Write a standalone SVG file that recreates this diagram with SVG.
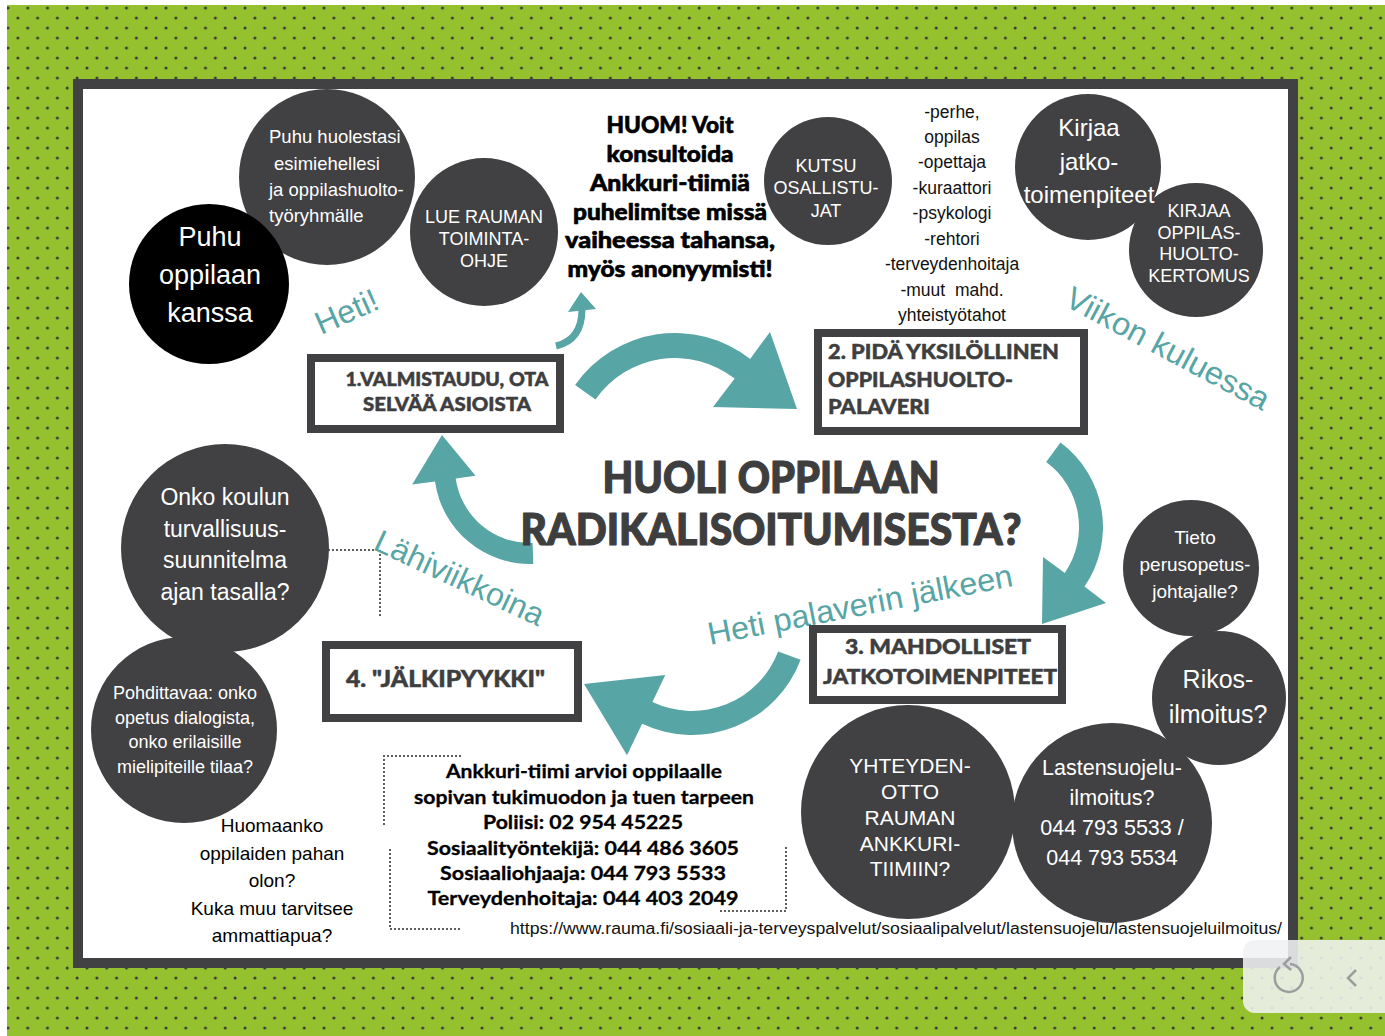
<svg xmlns="http://www.w3.org/2000/svg" width="1385" height="1036" viewBox="0 0 1385 1036">
<defs>
<pattern id="dots" x="0" y="0" width="19.75" height="20" patternUnits="userSpaceOnUse">
<circle cx="8" cy="8" r="1.5" fill="#3a3a3a"/>
<circle cx="17.875" cy="18" r="1.5" fill="#3a3a3a"/>
</pattern>
<style>
.circ{fill:#414042}
.blk{fill:#000}
.box{fill:#fff;stroke:#414042;stroke-width:8}
.ct{font-family:"Liberation Sans",Arial,sans-serif;fill:#fff;text-anchor:middle}
.pt{font-family:"Liberation Sans",Arial,sans-serif;fill:#111;text-anchor:middle}
.bt{font-family:Lato,"Open Sans",sans-serif;font-weight:900;fill:#3e3e3f;stroke:#3e3e3f;stroke-width:0.5;stroke-linejoin:round}
.ht{font-family:Lato,"Open Sans",sans-serif;font-weight:900;fill:#000;text-anchor:middle}
.hv{stroke:#000;stroke-width:0.6;stroke-linejoin:round}
.teal{fill:#57a5a5}
.tl{font-family:"Liberation Sans",Arial,sans-serif;fill:#57a5a5;font-size:32px}
.dot{fill:none;stroke:#3a3a3a;stroke-width:2.2;stroke-linecap:round;stroke-dasharray:0 4}
</style>
</defs>
<rect x="0" y="0" width="1385" height="1036" fill="#fff"/>
<rect x="7" y="5" width="1378" height="1031" fill="#96c12e"/>
<rect x="7" y="5" width="1378" height="1031" fill="url(#dots)"/>
<rect x="78" y="84" width="1215" height="879" fill="#fff" stroke="#414042" stroke-width="10"/>

<g id="connectors">
<path d="M556,346 Q582,340 582,309" fill="none" stroke="#57a5a5" stroke-width="7"/>
<polygon class="teal" points="581,292 568,312 596,309"/>
<path class="teal" d="M575.1,385 A122,122 0 0 1 750.1,358.9 L770,332 L797,409 L713,407 L734.7,378.6 A97,97 0 0 0 595.5,399.4 Z"/>
<path class="teal" d="M1060.5,442.6 A105,105 0 0 1 1084.5,586.5 L1106,603 L1042,624 L1043,557 L1064.8,572.9 A81,81 0 0 0 1046.2,461.9 Z"/>
<path class="teal" d="M800.6,659.8 A116,116 0 0 1 642.1,723.7 L627,755.3 L584,684 L665.3,675 L652.4,702 A92,92 0 0 0 778.1,651.4 Z"/>
<path class="teal" d="M533.3,563.9 A96,96 0 0 1 435,481.6 L412.2,484.6 L442,435 L475.5,475.7 L455.7,478.4 A75,75 0 0 0 532.6,543 Z"/>
<path class="dot" d="M329,550 H380 V618"/>
<path class="dot" d="M460,756 H384 V828"/>
<path class="dot" d="M390,850 V929 H463"/>
<path class="dot" d="M786,848 V911 H718"/>
</g>

<g id="labels">
<text class="tl" x="321" y="335" transform="rotate(-24 321 335)">Heti!</text>
<text class="tl" x="1063" y="305" transform="rotate(28 1063 305)" textLength="226" lengthAdjust="spacingAndGlyphs">Viikon kuluessa</text>
<text class="tl" x="372" y="549" transform="rotate(25 372 549)">Lähiviikkoina</text>
<text class="tl" x="710" y="645" transform="rotate(-11 710 645)" textLength="310" lengthAdjust="spacingAndGlyphs">Heti palaverin jälkeen</text>
</g>

<g id="n-huolestasi">
<circle class="circ" cx="327" cy="177" r="88"/>
<text class="ct" font-size="18.5" style="text-anchor:start"><tspan x="269" y="143">Puhu huolestasi</tspan><tspan x="274" y="170">esimiehellesi</tspan><tspan x="269" y="196">ja oppilashuolto-</tspan><tspan x="269" y="222">työryhmälle</tspan></text>
</g>
<g id="n-puhu">
<circle class="blk" cx="209" cy="284" r="80"/>
<text class="ct" font-size="27"><tspan x="210" y="246">Puhu</tspan><tspan x="210" y="284">oppilaan</tspan><tspan x="210" y="322">kanssa</tspan></text>
</g>
<g id="n-lue">
<circle class="circ" cx="484" cy="232" r="74"/>
<text class="ct" font-size="18"><tspan x="484" y="223">LUE RAUMAN</tspan><tspan x="484" y="245">TOIMINTA-</tspan><tspan x="484" y="267">OHJE</tspan></text>
</g>
<g id="n-huom">
<text class="ht hv" font-size="22"><tspan x="670" y="133" textLength="127" lengthAdjust="spacingAndGlyphs">HUOM! Voit</tspan><tspan x="670" y="162" textLength="127" lengthAdjust="spacingAndGlyphs">konsultoida</tspan><tspan x="670" y="191" textLength="160" lengthAdjust="spacingAndGlyphs">Ankkuri-tiimiä</tspan><tspan x="670" y="220" textLength="194" lengthAdjust="spacingAndGlyphs">puhelimitse missä</tspan><tspan x="670" y="248" textLength="210" lengthAdjust="spacingAndGlyphs">vaiheessa tahansa,</tspan><tspan x="670" y="277" textLength="205" lengthAdjust="spacingAndGlyphs">myös anonyymisti!</tspan></text>
</g>
<g id="n-kutsu">
<circle class="circ" cx="828" cy="181" r="64"/>
<text class="ct" font-size="18"><tspan x="826" y="172">KUTSU</tspan><tspan x="826" y="194">OSALLISTU-</tspan><tspan x="826" y="217">JAT</tspan></text>
</g>
<g id="n-osallistujat">
<text class="pt" font-size="17.5" xml:space="preserve"><tspan x="952" y="118">-perhe,</tspan><tspan x="952" y="143">oppilas</tspan><tspan x="952" y="168">-opettaja</tspan><tspan x="952" y="194">-kuraattori</tspan><tspan x="952" y="219">-psykologi</tspan><tspan x="952" y="245">-rehtori</tspan><tspan x="952" y="270">-terveydenhoitaja</tspan><tspan x="952" y="296">-muut  mahd.</tspan><tspan x="952" y="321">yhteistyötahot</tspan></text>
</g>
<g id="n-kertomus">
<circle class="circ" cx="1196" cy="250" r="67"/>
<text class="ct" font-size="18"><tspan x="1199" y="217">KIRJAA</tspan><tspan x="1199" y="239">OPPILAS-</tspan><tspan x="1199" y="260">HUOLTO-</tspan><tspan x="1199" y="282">KERTOMUS</tspan></text>
</g>
<g id="n-kirjaa">
<circle class="circ" cx="1088" cy="167" r="73"/>
<text class="ct" font-size="24"><tspan x="1089" y="136">Kirjaa</tspan><tspan x="1089" y="170">jatko-</tspan><tspan x="1089" y="203">toimenpiteet</tspan></text>
</g>
<g id="n-step1">
<rect class="box" x="311" y="358" width="249" height="71"/>
<text class="bt" font-size="18.5" text-anchor="middle"><tspan x="447" y="386" textLength="203" lengthAdjust="spacingAndGlyphs">1.VALMISTAUDU, OTA</tspan><tspan x="447" y="411" textLength="168" lengthAdjust="spacingAndGlyphs">SELVÄÄ ASIOISTA</tspan></text>
</g>
<g id="n-step2">
<rect class="box" x="818" y="333" width="266" height="98"/>
<text class="bt" font-size="21"><tspan x="828" y="359" textLength="231" lengthAdjust="spacingAndGlyphs">2. PIDÄ YKSILÖLLINEN</tspan><tspan x="828" y="387" textLength="185" lengthAdjust="spacingAndGlyphs">OPPILASHUOLTO-</tspan><tspan x="828" y="414" textLength="102" lengthAdjust="spacingAndGlyphs">PALAVERI</tspan></text>
</g>
<g id="n-title">
<text class="bt" font-size="43" text-anchor="middle" style="stroke-width:1.2"><tspan x="771" y="493" textLength="337" lengthAdjust="spacingAndGlyphs">HUOLI OPPILAAN</tspan><tspan x="771" y="545" textLength="501" lengthAdjust="spacingAndGlyphs">RADIKALISOITUMISESTA?</tspan></text>
</g>
<g id="n-onko">
<circle class="circ" cx="225" cy="548" r="104"/>
<text class="ct" font-size="23"><tspan x="225" y="505">Onko koulun</tspan><tspan x="225" y="537">turvallisuus-</tspan><tspan x="225" y="568">suunnitelma</tspan><tspan x="225" y="600">ajan tasalla?</tspan></text>
</g>
<g id="n-pohdittavaa">
<circle class="circ" cx="184" cy="730" r="93"/>
<text class="ct" font-size="18"><tspan x="185" y="699">Pohdittavaa: onko</tspan><tspan x="185" y="724">opetus dialogista,</tspan><tspan x="185" y="748">onko erilaisille</tspan><tspan x="185" y="773">mielipiteille tilaa?</tspan></text>
</g>
<g id="n-step3">
<rect class="box" x="813" y="629" width="249" height="71"/>
<text class="bt" font-size="21" text-anchor="middle"><tspan x="938" y="654" textLength="186" lengthAdjust="spacingAndGlyphs">3. MAHDOLLISET</tspan><tspan x="940" y="684" textLength="234" lengthAdjust="spacingAndGlyphs">JATKOTOIMENPITEET</tspan></text>
</g>
<g id="n-step4">
<rect class="box" x="326" y="645" width="252" height="73"/>
<text class="bt" font-size="23" x="346" y="687" textLength="199" lengthAdjust="spacingAndGlyphs">4. "JÄLKIPYYKKI"</text>
</g>
<g id="n-tieto">
<circle class="circ" cx="1191" cy="568" r="68"/>
<text class="ct" font-size="19"><tspan x="1195" y="544">Tieto</tspan><tspan x="1195" y="571">perusopetus-</tspan><tspan x="1195" y="598">johtajalle?</tspan></text>
</g>
<g id="n-rikos">
<circle class="circ" cx="1219" cy="698" r="67"/>
<text class="ct" font-size="25"><tspan x="1218" y="688">Rikos-</tspan><tspan x="1218" y="723">ilmoitus?</tspan></text>
</g>
<g id="n-yhteydenotto">
<circle class="circ" cx="908" cy="812" r="107"/>
<text class="ct" font-size="21"><tspan x="910" y="773">YHTEYDEN-</tspan><tspan x="910" y="799">OTTO</tspan><tspan x="910" y="825">RAUMAN</tspan><tspan x="910" y="851">ANKKURI-</tspan><tspan x="910" y="876">TIIMIIN?</tspan></text>
</g>
<g id="n-lastensuojelu">
<circle class="circ" cx="1112" cy="823" r="100"/>
<text class="ct" font-size="21.5"><tspan x="1112" y="775">Lastensuojelu-</tspan><tspan x="1112" y="805">ilmoitus?</tspan><tspan x="1112" y="835">044 793 5533 /</tspan><tspan x="1112" y="865">044 793 5534</tspan></text>
</g>
<g id="n-huomaanko">
<text class="pt" font-size="19" style="fill:#000"><tspan x="272" y="832">Huomaanko</tspan><tspan x="272" y="860">oppilaiden pahan</tspan><tspan x="272" y="887">olon?</tspan><tspan x="272" y="915">Kuka muu tarvitsee</tspan><tspan x="272" y="942">ammattiapua?</tspan></text>
</g>
<g id="n-ankkuri">
<text class="ht" font-size="19.5" style="font-weight:700;stroke:#000;stroke-width:0.3"><tspan x="584" y="778" textLength="276" lengthAdjust="spacingAndGlyphs">Ankkuri-tiimi arvioi oppilaalle</tspan><tspan x="584" y="804" textLength="340" lengthAdjust="spacingAndGlyphs">sopivan tukimuodon ja tuen tarpeen</tspan><tspan x="583" y="829" textLength="200" lengthAdjust="spacingAndGlyphs">Poliisi: 02 954 45225</tspan><tspan x="583" y="855" textLength="312" lengthAdjust="spacingAndGlyphs">Sosiaalityöntekijä: 044 486 3605</tspan><tspan x="583" y="880" textLength="286" lengthAdjust="spacingAndGlyphs">Sosiaaliohjaaja: 044 793 5533</tspan><tspan x="583" y="905" textLength="311" lengthAdjust="spacingAndGlyphs">Terveydenhoitaja: 044 403 2049</tspan></text>
</g>
<g id="n-url">
<text class="pt" font-size="16" style="text-anchor:start;fill:#111" x="510" y="934" textLength="772" lengthAdjust="spacingAndGlyphs">https://www.rauma.fi/sosiaali-ja-terveyspalvelut/sosiaalipalvelut/lastensuojelu/lastensuojeluilmoitus/</text>
</g>

<g id="ui-overlay">
<rect x="1243" y="940" width="170" height="73" rx="12" fill="#f0f1f3" fill-opacity="0.88"/>
<path d="M1280,967 A14,14 0 1 0 1290,964" fill="none" stroke="#9c9e9e" stroke-width="2.5"/>
<polyline points="1291,957 1284,964 1291,970" fill="none" stroke="#9c9e9e" stroke-width="2.5"/>
<polyline points="1356,970 1348,978 1356,986" fill="none" stroke="#9c9e9e" stroke-width="2.5"/>
</g>
</svg>
